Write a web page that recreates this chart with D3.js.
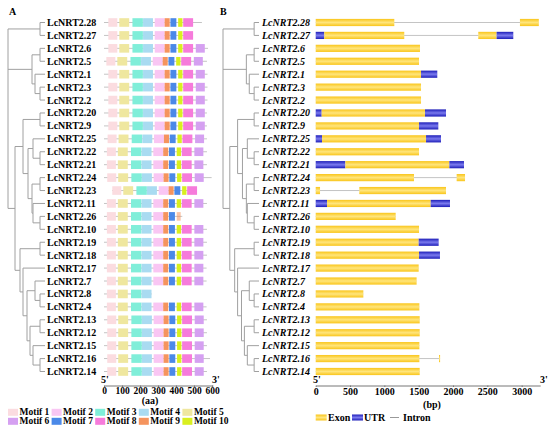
<!DOCTYPE html>
<html>
<head>
<meta charset="utf-8">
<script src="https://cdn.jsdelivr.net/npm/d3@7"></script>
<style>
body { margin: 0; background: #fff; }
text { font-family: "Liberation Serif", "Times New Roman", serif; font-weight: bold; fill: #000; }
</style>
</head>
<body>
<script>

WIDTH = 550;
HEIGHT = 431;
LEAF_DEPTH = 37;
TREE_COLOR = "#a0a0a0";

// leaf order, top to bottom
const geneNames = ["LcNRT2.28","LcNRT2.27","LcNRT2.6","LcNRT2.5","LcNRT2.1","LcNRT2.3","LcNRT2.2",
    "LcNRT2.20","LcNRT2.9","LcNRT2.25","LcNRT2.22","LcNRT2.21","LcNRT2.24","LcNRT2.23",
    "LcNRT2.11","LcNRT2.26","LcNRT2.10","LcNRT2.19","LcNRT2.18","LcNRT2.17","LcNRT2.7",
    "LcNRT2.8","LcNRT2.4","LcNRT2.13","LcNRT2.12","LcNRT2.15","LcNRT2.16","LcNRT2.14"];

// [node depth, children...]
const tree = [0,
  [32, "LcNRT2.28", "LcNRT2.27"],
  [24, [32, "LcNRT2.6", "LcNRT2.5"], [27, "LcNRT2.1", [32, "LcNRT2.3", "LcNRT2.2"]]],
  [7,
    [15, [32, "LcNRT2.20", "LcNRT2.9"],
         [20, [25, "LcNRT2.25", [32, "LcNRT2.22", "LcNRT2.21"]],
              [24, [32, "LcNRT2.24", "LcNRT2.23"], [25, "LcNRT2.11", [32, "LcNRT2.26", "LcNRT2.10"]]]]],
    [12, [32, "LcNRT2.19", "LcNRT2.18"],
         [15, "LcNRT2.17",
              [19, [27, "LcNRT2.7", [32, "LcNRT2.8", "LcNRT2.4"]],
                   [22, [32, "LcNRT2.13", "LcNRT2.12"], [25, "LcNRT2.15", [32, "LcNRT2.16", "LcNRT2.14"]]]]]]]
];

// motifs 1..10
const motifNames = ["Motif 1","Motif 2","Motif 3","Motif 4","Motif 5","Motif 6","Motif 7","Motif 8","Motif 9","Motif 10"];
const motifColors = ["#fbdce0","#f9c6f3","#80eed9","#a9dbf1","#efe79f","#d5a0f1","#4b89e8","#f67bdb","#f5945e","#d9ef1f"];
const motifStart = [16, 274, 150, 209, 77, 502, 361, 432, 329, 404];
const motifWidth = [50, 55, 58, 55, 55, 50, 33, 55, 28, 24];

const ALL = [1,5,3,4,2,9,7,10,8,6];
const NO6 = [1,5,3,4,2,9,7,10,8];
const geneMotifs = [NO6, NO6, ALL, ALL, ALL, ALL, ALL, ALL, ALL, ALL, ALL, ALL, ALL, NO6,
    ALL, [1,5,3,4,2,9,7], ALL, ALL, ALL, ALL, ALL, [1,5,3,4], ALL, ALL, ALL, ALL, ALL, ALL];
const motifOffset = [8, 8, 8, -3, 8, 8, 8, 8, 8, 4, 0, 0, 2, 30, 0, 0, 0, 0, 0, 0, 0, 0, 0, 2, 2, 2, 2, 2];
const proteinStart = [0,0,0,0,0,0,0,0,0,0,0,0,0,45,0,0,0,0,0,0,0,0,0,0,0,0,0,0];
const proteinEnd = [544, 490, 578, 572, 575, 575, 575, 572, 572, 572, 572, 572, 598, 511,
    572, 435, 572, 572, 572, 570, 570, 265, 570, 572, 572, 572, 589, 572];
// faint partial motif on LcNRT2.26: [gene, motif, start, width]
const partialMotif = ["LcNRT2.26", 9, 404, 22];
const aaTicks = [0, 100, 200, 300, 400, 500, 600];

// gene structure, bp: E = exon (CDS), U = UTR
const geneParts = [
  [["E",0,1145],["E",2975,3250]],
  [["U",0,125],["E",125,1290],["E",2368,2635],["U",2635,2878]],
  [["E",0,1519]],
  [["E",0,1505]],
  [["E",0,1534],["U",1534,1771]],
  [["E",0,1534]],
  [["E",0,1534]],
  [["U",0,87],["E",87,1592],["U",1592,1898]],
  [["E",0,1505],["U",1505,1786]],
  [["U",0,92],["E",92,1607],["U",1607,1825]],
  [["E",0,1505]],
  [["U",0,432],["E",432,1947],["U",1947,2160]],
  [["E",0,1432],["E",2053,2175]],
  [["E",0,63],["E",635,1898]],
  [["U",0,165],["E",165,1675],["U",1675,1956]],
  [["E",0,1165]],
  [["E",0,1505]],
  [["E",0,1500],["U",1500,1791]],
  [["E",0,1505],["U",1505,1810]],
  [["E",0,1500]],
  [["E",0,1470]],
  [["E",0,694]],
  [["E",0,1510]],
  [["E",0,1515]],
  [["E",0,1515]],
  [["E",0,1510]],
  [["E",0,1510],["E",1796,1812]],
  [["E",0,1515]]
];
const bpTicks = [0, 500, 1000, 1500, 2000, 2500, 3000];


var svg = d3.select("body").append("svg")
    .attr("width", WIDTH)
    .attr("height", HEIGHT);

// gradients for exon / UTR bars
var defs = svg.append("defs");
function vGrad(id, edge, mid) {
    var g = defs.append("linearGradient").attr("id", id)
        .attr("x1", 0).attr("y1", 0).attr("x2", 0).attr("y2", 1);
    g.append("stop").attr("offset", "0%").attr("stop-color", edge);
    g.append("stop").attr("offset", "50%").attr("stop-color", mid);
    g.append("stop").attr("offset", "100%").attr("stop-color", edge);
}
vGrad("exon", "#f9c51a", "#ffe57c");
vGrad("utr", "#1d1db8", "#7a7aee");

var y = d3.scalePoint().domain(geneNames).range([22.5, 371.5]);

function drawTree(g, x) {
    var root = d3.hierarchy(tree, d => Array.isArray(d) ? d.slice(1) : null);
    root.eachAfter(n => {
        n.px = x(n.children ? n.data[0] : LEAF_DEPTH);
        n.py = n.children
            ? (n.children[0].py + n.children[n.children.length - 1].py) / 2
            : y(n.data);
    });
    var internal = root.descendants().filter(n => n.children);
    g.selectAll("line.v")
        .data(internal)
        .join("line")
        .attr("class", "v")
        .attr("x1", n => n.px).attr("x2", n => n.px)
        .attr("y1", n => n.children[0].py)
        .attr("y2", n => n.children[n.children.length - 1].py)
        .attr("stroke", TREE_COLOR);
    g.selectAll("line.h")
        .data(root.links())
        .join("line")
        .attr("class", "h")
        .attr("x1", l => l.source.px).attr("x2", l => l.target.px)
        .attr("y1", l => l.target.py).attr("y2", l => l.target.py)
        .attr("stroke", TREE_COLOR);
}

function drawAxis(x, ticks, fs, unit, unitX, unitY, leftX, rightX) {
    var ax = svg.append("g")
        .attr("transform", "translate(0,385.5)")
        .call(d3.axisBottom(x).tickValues(ticks).tickFormat(d3.format("d"))
            .tickSize(1.5).tickPadding(0.5).tickSizeOuter(0));
    ax.select(".domain").attr("stroke", "#777");
    ax.selectAll(".tick line").attr("stroke", "#777");
    ax.selectAll("text").attr("font-size", fs).attr("font-family", null);
    svg.append("text").attr("x", leftX).attr("y", 383).attr("font-size", 10).text("5'");
    svg.append("text").attr("x", rightX).attr("y", 383).attr("font-size", 10).text("3'");
    svg.append("text").attr("x", unitX).attr("y", unitY).attr("text-anchor", "middle")
        .attr("font-size", 10).text(unit);
}

// ---------- panel A ----------
svg.append("text").attr("x", 9).attr("y", 15).attr("font-size", 10).text("A");

drawTree(svg.append("g"), d3.scaleLinear().domain([0, LEAF_DEPTH]).range([8, 45]));

svg.append("g").selectAll("text")
    .data(geneNames)
    .join("text")
    .attr("x", 47)
    .attr("y", d => y(d))
    .attr("dy", "0.35em")
    .attr("font-size", 10)
    .text(d => d);

var xA = d3.scaleLinear().domain([0, 605]).range([104, 212.9]);

var rowA = svg.append("g").selectAll("g")
    .data(geneNames)
    .join("g")
    .attr("transform", d => "translate(0," + y(d) + ")");

rowA.append("line")
    .attr("x1", (d, i) => xA(proteinStart[i]))
    .attr("x2", (d, i) => xA(proteinEnd[i]))
    .attr("stroke", "#c4c4c4");

rowA.each(function(d, i) {
    var boxes = geneMotifs[i].map(m => ({m: m, s: motifStart[m - 1] + motifOffset[i], w: motifWidth[m - 1], op: 1}));
    if (d === partialMotif[0])
        boxes.push({m: partialMotif[1], s: partialMotif[2], w: partialMotif[3], op: 0.55});
    d3.select(this).selectAll("rect")
        .data(boxes)
        .join("rect")
        .attr("x", b => xA(b.s))
        .attr("width", b => xA(b.s + b.w) - xA(b.s))
        .attr("y", -4.3)
        .attr("height", 8.6)
        .attr("fill", b => motifColors[b.m - 1])
        .attr("opacity", b => b.op);
});

drawAxis(xA, aaTicks, 9.5, "(aa)", 150, 403.5, 101, 212);

// motif legend
var legA = svg.append("g").selectAll("g")
    .data(motifNames)
    .join("g")
    .attr("transform", (d, i) => "translate(" + (8 + 43.6 * (i % 5)) + "," + (i < 5 ? 412.3 : 421.3) + ")");
legA.append("rect")
    .attr("x", 0).attr("y", -3.5).attr("width", 10).attr("height", 7)
    .attr("fill", (d, i) => motifColors[i]);
legA.append("text")
    .attr("x", 11.5).attr("dy", "0.33em").attr("font-size", 9.5)
    .text(d => d);

// ---------- panel B ----------
svg.append("text").attr("x", 220).attr("y", 15).attr("font-size", 10).text("B");

drawTree(svg.append("g"), d3.scaleLinear().domain([0, LEAF_DEPTH]).range([223, 259]));

svg.append("g").selectAll("text")
    .data(geneNames)
    .join("text")
    .attr("x", 262)
    .attr("y", d => y(d))
    .attr("dy", "0.35em")
    .attr("font-size", 10)
    .attr("font-style", "italic")
    .text(d => d);

var xB = d3.scaleLinear().domain([0, 3270]).range([315.7, 540.2]);

var rowB = svg.append("g").selectAll("g")
    .data(geneNames)
    .join("g")
    .attr("transform", d => "translate(0," + y(d) + ")");

// introns: line under the whole gene
rowB.append("line")
    .attr("x1", (d, i) => xB(geneParts[i][0][1]))
    .attr("x2", (d, i) => xB(geneParts[i][geneParts[i].length - 1][2]))
    .attr("stroke", "#c4c4c4");

rowB.each(function(d, i) {
    d3.select(this).selectAll("rect")
        .data(geneParts[i])
        .join("rect")
        .attr("x", p => xB(p[1]))
        .attr("width", p => Math.max(xB(p[2]) - xB(p[1]), 1))
        .attr("y", -3.6)
        .attr("height", 7.2)
        .attr("fill", p => p[0] === "E" ? "url(#exon)" : "url(#utr)");
});

drawAxis(xB, bpTicks, 10, "(bp)", 432, 407.5, 313, 540);

// structure legend
var legB = svg.append("g").attr("transform", "translate(0,417.5)");
legB.append("rect").attr("x", 315.7).attr("y", -3).attr("width", 11).attr("height", 6).attr("fill", "url(#exon)");
legB.append("text").attr("x", 328).attr("dy", "0.35em").attr("font-size", 10).text("Exon");
legB.append("rect").attr("x", 352).attr("y", -3).attr("width", 11).attr("height", 6).attr("fill", "url(#utr)");
legB.append("text").attr("x", 364).attr("dy", "0.35em").attr("font-size", 10).text("UTR");
legB.append("line").attr("x1", 390).attr("x2", 399).attr("stroke", "#999");
legB.append("text").attr("x", 403).attr("dy", "0.35em").attr("font-size", 10).text("Intron");

</script>
</body>
</html>
